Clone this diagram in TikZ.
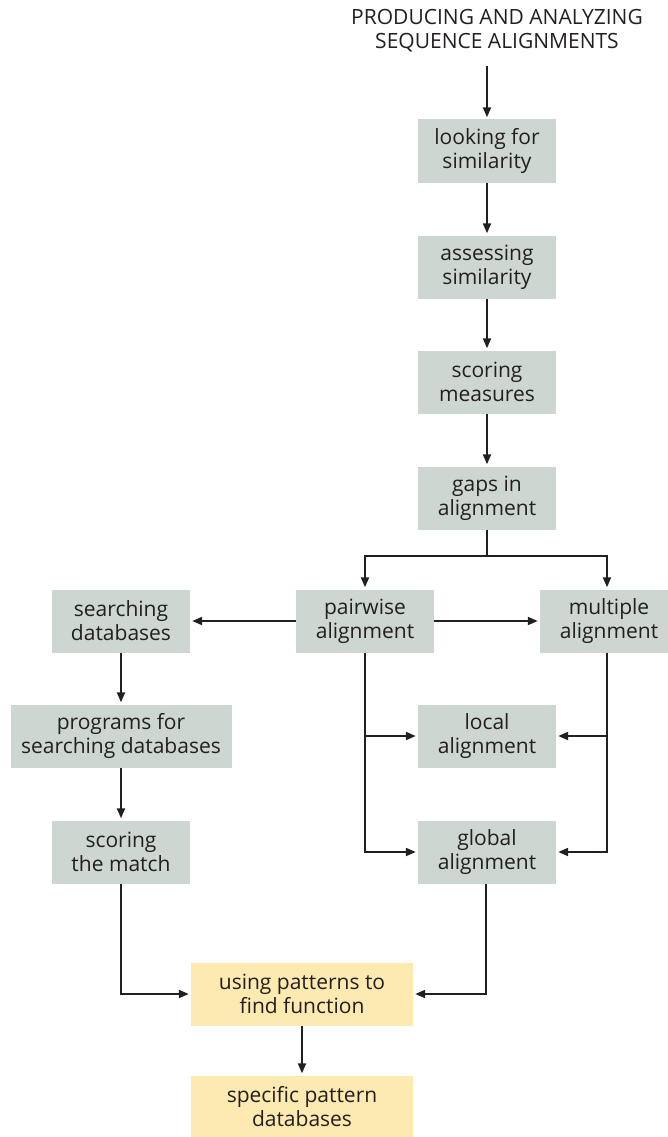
\documentclass[tikz,border=0pt]{standalone}
\usepackage{fontspec}
\setmainfont{Open Sans}
\usetikzlibrary{arrows.meta}
\definecolor{gris}{HTML}{CDD6D0}
\definecolor{amarillo}{HTML}{FDEAB0}
\definecolor{texto}{HTML}{231F20}

\begin{document}
\begin{tikzpicture}[x=1pt,y=-1pt]
% estilos de cajas y flechas
\tikzstyle{letra}=[font=\fontsize{21}{24}\selectfont,text=texto];
\tikzstyle{caja}=[letra,fill=gris,minimum width=138pt,minimum height=63pt,inner sep=0pt,align=center];
\tikzstyle{cajaa}=[caja,fill=amarillo,minimum width=222pt];
\tikzstyle{flecha}=[line width=2pt,draw=texto,-{Triangle[length=10pt,width=8pt]},shorten >=2pt];
\useasboundingbox (0,0) rectangle (668,1137);
% titulo
\node[letra,align=center] (titulo) at (497,31) {PRODUCING AND ANALYZING\\SEQUENCE ALIGNMENTS};
% columna central
\node[caja] (buscar) at (487,151) {looking for\\similarity};
\node[caja] (evaluar) at (487,267) {assessing\\similarity};
\node[caja] (medidas) at (487,382) {scoring\\measures};
\node[caja] (huecos) at (487,498) {gaps in\\alignment};
% alineamientos
\node[caja] (pares) at (365,621) {pairwise\\alignment};
\node[caja] (multiple) at (609,621) {multiple\\alignment};
\node[caja] (local) at (487,736) {local\\alignment};
\node[caja] (global) at (487,852) {global\\alignment};
% bases de datos
\node[caja] (bases) at (121,621) {searching\\databases};
\node[caja,minimum width=221pt] (programas) at (121,736) {programs for\\searching databases};
\node[caja] (puntaje) at (121,852) {scoring\\the match};
% patrones
\node[cajaa] (patrones) at (302,994) {using patterns to\\find function};
\node[cajaa] (especificas) at (302,1107) {specific pattern\\databases};
% dibujar flechas
\draw[flecha] ([yshift=-10pt]titulo.south -| buscar.north) -- (buscar.north);
\draw[flecha] (buscar) -- (evaluar);
\draw[flecha] (evaluar) -- (medidas);
\draw[flecha] (medidas) -- (huecos);
\draw[flecha] (huecos.south) -- ++(0,26) -| (pares.north);
\draw[flecha] (huecos.south) -- ++(0,26) -| ([xshift=-2pt]multiple.north);
\draw[flecha] (pares) -- (bases);
\draw[flecha] (pares) -- (multiple);
\draw[flecha] (bases) -- (programas);
\draw[flecha] (programas) -- (puntaje);
\draw[flecha] (pares.south) |- (local.west);
\draw[flecha] (pares.south) |- (global.west);
\draw[flecha] ([xshift=-2pt]multiple.south) |- (local.east);
\draw[flecha] ([xshift=-2pt]multiple.south) |- (global.east);
\draw[flecha] (puntaje.south) |- (patrones.west);
\draw[flecha] ([xshift=-1pt]global.south) |- (patrones.east);
\draw[flecha] (patrones) -- (especificas);
\end{tikzpicture}
\end{document}
